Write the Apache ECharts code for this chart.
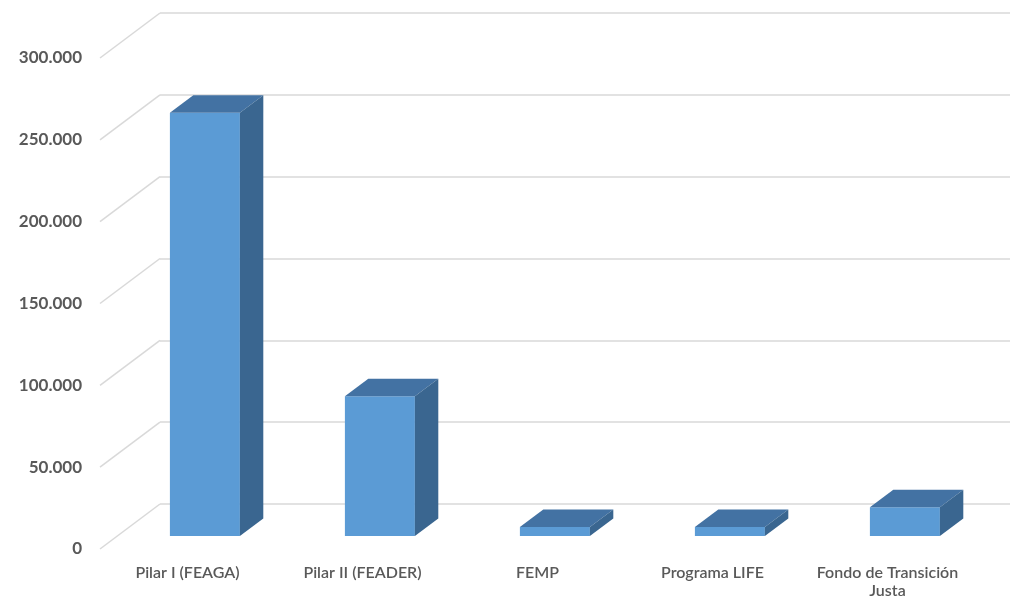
<!DOCTYPE html>
<html>
<head>
<meta charset="utf-8">
<script src="https://cdn.jsdelivr.net/npm/echarts@6/dist/echarts.min.js"></script>
<style>html,body{margin:0;padding:0;background:#fff;}#c{width:1010px;height:599px;}</style>
</head>
<body>
<div id="c"></div>
<script>
const categories = ['Pilar I (FEAGA)', 'Pilar II (FEADER)', 'FEMP', 'Programa LIFE', 'Fondo de Transición\nJusta'];
const values = [258594, 85350, 5430, 5432, 17500];
const yTicks = [0, 50000, 100000, 150000, 200000, 250000, 300000];

const DX = 60, DY = 45;        // depth offset of back wall
const F0 = 0.29, F1 = 0.68;    // bar front/back depth fractions
const BAR_W = 0.4;             // bar width as fraction of band
const C_FRONT = '#5B9BD5', C_TOP = '#4372A3', C_SIDE = '#3A6690';

const chart = echarts.init(document.getElementById('c'), null, {renderer: 'canvas'});
const fmt = v => v === 0 ? '0' : String(v).replace(/\B(?=(\d{3})+(?!\d))/g, '.');

chart.setOption({
  animation: false,
  backgroundColor: '#fff',
  grid: [
    {left: 100, top: 58, width: 875, height: 491, outerBoundsMode: 'none', containLabel: false},
    {left: 100 + DX, top: 58 - DY, width: 875, height: 491, outerBoundsMode: 'none', containLabel: false}
  ],
  xAxis: [
    {type: 'category', gridIndex: 0, data: categories,
     axisLine: {show: false}, axisTick: {show: false},
     axisLabel: {interval: 0, hideOverlap: false, color: '#595959', fontFamily: 'Lato', fontSize: 16, fontWeight: 600, margin: 15, lineHeight: 18}},
    {type: 'category', gridIndex: 1, data: categories, show: false}
  ],
  yAxis: [
    {type: 'value', gridIndex: 0, min: 0, max: 300000, interval: 50000,
     axisLine: {show: false}, axisTick: {show: false}, splitLine: {show: false},
     axisLabel: {color: '#595959', fontFamily: 'Lato', fontSize: 17, fontWeight: 'bold', margin: 18, formatter: fmt}},
    {type: 'value', gridIndex: 1, min: 0, max: 300000, interval: 50000,
     axisLine: {show: false}, axisTick: {show: false}, axisLabel: {show: false},
     splitLine: {show: true, lineStyle: {color: '#D9D9D9', width: 1.5}}}
  ],
  series: [
    {
      type: 'custom', xAxisIndex: 0, yAxisIndex: 0, silent: true,
      data: yTicks.map(v => [0, v]),
      renderItem: (params, api) => {
        const p = api.coord([0, api.value(1)]);
        const bw = api.size([1, 0])[0];
        const x = p[0] - bw / 2;
        return {type: 'line', shape: {x1: x, y1: p[1], x2: x + DX, y2: p[1] - DY},
                style: {stroke: '#D9D9D9', lineWidth: 1.5}};
      }
    },
    {
      type: 'custom', xAxisIndex: 0, yAxisIndex: 0, silent: true,
      data: values.map((v, i) => [i, v]),
      renderItem: (params, api) => {
        const idx = api.value(0);
        const top = api.coord([idx, api.value(1)]);
        const base = api.coord([idx, 0]);
        const bw = api.size([1, 0])[0];
        const w = bw * BAR_W;
        const ox = DX * F0, oy = DY * F0;
        const ddx = DX * (F1 - F0), ddy = DY * (F1 - F0);
        const xl = top[0] - w / 2 + ox, xr = top[0] + w / 2 + ox;
        const yt = top[1] - oy, yb = base[1] - oy;
        return {type: 'group', children: [
          {type: 'polygon', shape: {points: [[xl, yt], [xr, yt], [xr, yb], [xl, yb]]}, style: {fill: C_FRONT}},
          {type: 'polygon', shape: {points: [[xl, yt], [xl + ddx, yt - ddy], [xr + ddx, yt - ddy], [xr, yt]]}, style: {fill: C_TOP}},
          {type: 'polygon', shape: {points: [[xr, yt], [xr + ddx, yt - ddy], [xr + ddx, yb - ddy], [xr, yb]]}, style: {fill: C_SIDE}}
        ]};
      }
    }
  ]
});
</script>
</body>
</html>
